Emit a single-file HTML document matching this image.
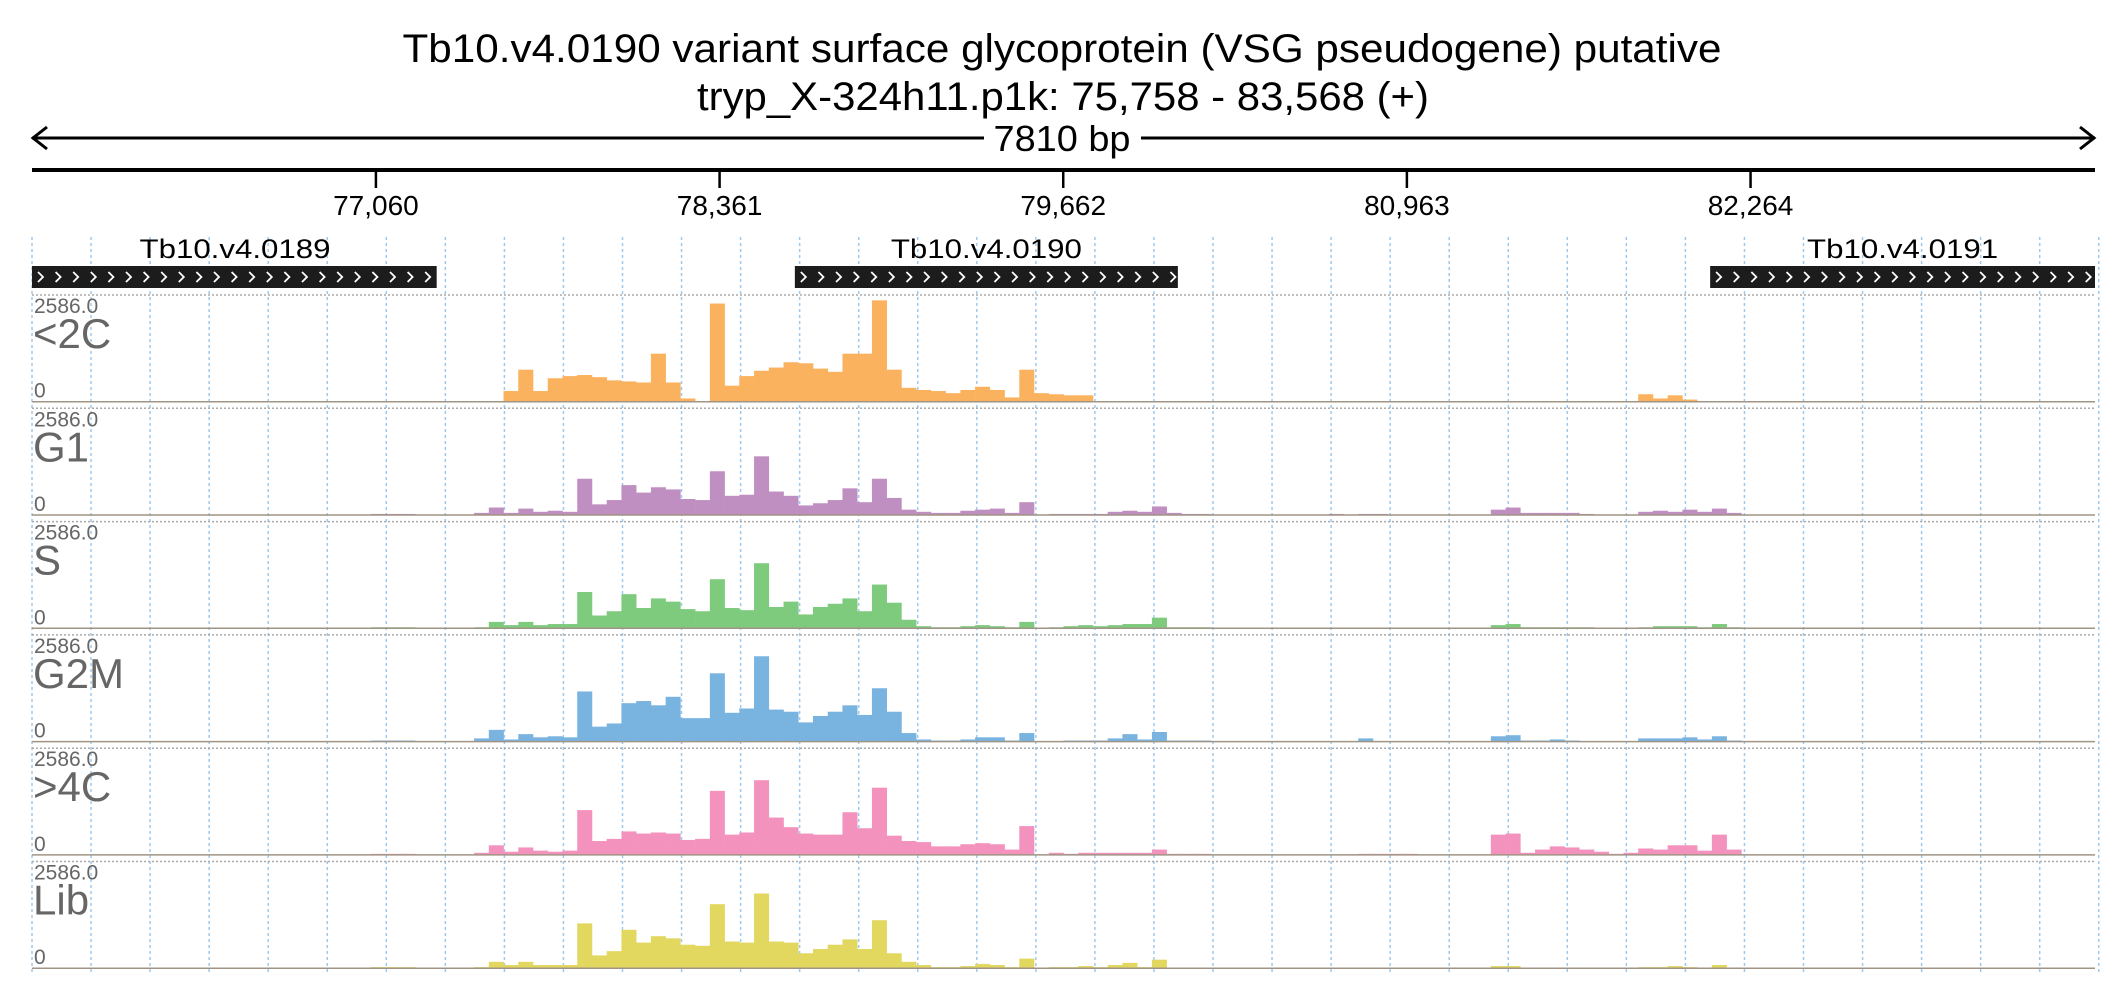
<!DOCTYPE html>
<html><head><meta charset="utf-8">
<style>
html,body{margin:0;padding:0;background:#fff;}
svg{display:block;font-family:"Liberation Sans",sans-serif;}
</style></head>
<body>
<svg id="chart" width="2126" height="1000" viewBox="0 0 2126 1000" xmlns="http://www.w3.org/2000/svg">
  <text x="1062" y="62" font-size="40" text-anchor="middle" textLength="1319" lengthAdjust="spacingAndGlyphs">Tb10.v4.0190  variant surface glycoprotein (VSG  pseudogene)  putative</text>
  <text x="1063" y="110" font-size="40" text-anchor="middle" textLength="732" lengthAdjust="spacingAndGlyphs">tryp_X-324h11.p1k: 75,758 - 83,568 (+)</text>
  <g stroke="#000" stroke-width="3" fill="none">
    <line x1="32" y1="138" x2="984" y2="138"/>
    <line x1="1141" y1="138" x2="2095" y2="138"/>
    <polyline points="47,127 33,138 47,149"/>
    <polyline points="2080,127 2094,138 2080,149"/>
  </g>
  <text x="1062" y="151" font-size="36" text-anchor="middle" textLength="137" lengthAdjust="spacingAndGlyphs">7810 bp</text>
  <line x1="32" y1="170" x2="2095" y2="170" stroke="#000" stroke-width="4"/>
  <g id="ticks"></g>
  <g id="grid"></g>
  <g id="genes"></g>
  <g id="tracks"></g>
</svg>
<script>
const NS = "http://www.w3.org/2000/svg";
const svg = document.getElementById('chart');
const regionStart = 75758, regionEnd = 83568;
const tickPositions = [77060, 78361, 79662, 80963, 82264];
const tickLabels = ["77,060", "78,361", "79,662", "80,963", "82,264"];
const geneNames = ["Tb10.v4.0189", "Tb10.v4.0190", "Tb10.v4.0191"];
const geneStarts = [75758, 78646, 82111];
const geneEnds = [77290, 80096, 83568];
const trackNames = ["<2C", "G1", "S", "G2M", ">4C", "Lib"];
const trackMaxLabel = "2586.0";
const trackColors = ["#fbb25e", "#c08fc2", "#7ecb7d", "#79b3e0", "#f492be", "#e2d860"];
const nBins = 140;
// coverage per bin, as % of 2586.0
const covLt2C = [0,0,0,0,0,0,0,0,0,0, 0,0,0,0,0,0,0,0,0,0, 0,0,0,0,0,0,0,0,0,0,
 0,0,10,30,10,22,24,25,23,20, 19,18,45,18,3,0,92,15,24,29, 32,37,36,31,28,45,45,95,30,13,
 11,10,8,11,14,11,4,30,8,7, 6,6,0,0,0,0,0,0,0,0, 0,0,0,0,0,0,0,0,0,0, 0,0,0,0,0,0,0,0,0,0,
 0,0,0,0,0,0,0,0,0,7, 3,6,2,0,0,0,0,0,0,0, 0,0,0,0,0,0,0,0,0,0, 0,0,0,0,0,0,0,0,0,0];
const covG1 = [0,0,0,0,0,0,0,0,0,0, 0,0,0,0,0,0,0,0,0,0, 0,0,0,1,1,1,0,0,0,0,
 2,7,2,6,3,4,3,34,10,14, 28,21,26,24,15,14,41,18,19,55, 22,18,9,11,14,25,12,34,16,5,
 3,2,2,4,5,6,2,12,0,1, 1,1,1,3,4,3,8,2,1,1, 0,0,0,0,0,0,0,0,1,0, 1,1,0,0,0,0,0,0,0,5,
 7,2,2,2,2,1,0,0,0,3, 4,3,5,3,6,2,0,0,0,0, 0,0,0,0,0,0,0,0,0,0, 0,0,0,0,0,0,0,0,0,0];
const covS = [0,0,0,0,0,0,0,0,0,0, 0,0,0,0,0,0,0,0,0,0, 0,0,0,1,1,1,0,0,0,0,
 1,6,3,6,3,4,4,34,12,16, 32,19,28,25,18,16,46,19,17,61, 20,25,13,20,23,28,16,41,24,8,
 2,1,1,2,3,2,1,6,0,1, 2,3,2,3,4,4,10,1,1,1, 0,0,0,0,0,0,0,0,0,0, 0,0,0,0,0,0,0,0,0,3,
 4,1,1,1,1,1,0,0,0,1, 2,2,2,1,4,1,0,0,0,0, 0,0,0,0,0,0,0,0,0,0, 0,0,0,0,0,0,0,0,0,0];
const covG2M = [0,0,0,0,0,0,0,0,0,0, 0,0,0,0,0,0,0,0,0,0, 0,0,0,1,1,1,0,0,0,0,
 3,11,2,7,4,5,4,47,14,17, 36,38,34,42,22,22,64,27,31,80, 30,28,18,24,28,34,25,50,28,8,
 2,1,1,2,4,4,1,8,0,0, 1,1,1,3,7,2,9,1,1,1, 0,0,0,0,0,0,0,0,0,0, 3,0,0,0,0,0,0,0,0,5,
 6,1,1,2,1,0,0,0,0,3, 3,3,4,2,5,1,0,0,0,0, 0,0,0,0,0,0,0,0,0,0, 0,0,0,0,0,0,0,0,0,0];
const covGt4C = [0,0,0,0,0,0,0,0,0,0, 0,0,0,0,0,0,0,0,0,0, 0,0,0,1,1,1,0,0,0,0,
 2,9,3,7,4,3,4,42,13,15, 22,20,21,20,14,15,60,19,21,70, 35,26,20,19,19,40,25,63,18,13,
 12,8,8,10,11,10,5,27,0,2, 1,2,2,2,2,2,5,1,1,1, 0,0,0,0,0,0,0,0,0,0, 1,1,1,1,0,0,0,0,0,19,
 20,2,5,8,7,5,3,1,2,6, 5,9,9,4,19,5,0,0,0,0, 0,0,0,0,0,0,0,0,0,0, 0,0,0,0,0,0,0,0,0,0];
const covLib = [0,0,0,0,0,0,0,0,0,0, 0,0,0,0,0,0,0,0,0,0, 0,0,0,1,1,1,0,0,0,0,
 1,6,3,6,3,3,3,42,12,16, 36,24,30,28,22,21,60,25,24,70, 25,24,14,18,22,27,18,45,14,6,
 3,1,1,2,4,3,1,9,0,1, 1,2,1,3,5,1,8,0,0,0, 0,0,0,0,0,0,0,0,0,0, 0,0,0,0,0,0,0,0,0,2,
 2,0,0,0,0,0,0,0,0,1, 1,2,1,0,3,0,0,0,0,0, 0,0,0,0,0,0,0,0,0,0, 0,0,0,0,0,0,0,0,0,0];
const trackSeries = [covLt2C, covG1, covS, covG2M, covGt4C, covLib];
const yMax = 100;

const X0 = 32, X1 = 2095;
function xScale(bp){ return X0 + (bp - regionStart) / (regionEnd - regionStart) * (X1 - X0); }
function binStart(i){ return regionStart + i * (regionEnd - regionStart) / nBins; }
function mk(tag, attrs, parent){
  const e = document.createElementNS(NS, tag);
  for (const k in attrs) e.setAttribute(k, attrs[k]);
  parent.appendChild(e); return e;
}

const gT = document.getElementById('ticks');
tickPositions.forEach((p, i) => {
  const x = xScale(p);
  const l = mk('line', {x1:x, y1:170, x2:x, y2:188, stroke:'#000', 'stroke-width':2.5}, gT);
  
  
  const t = mk('text', {x:x, y:215, 'font-size':28, 'text-anchor':'middle'}, gT);
  t.textContent = tickLabels[i];
  
  
});

const gG = document.getElementById('grid');
for (let k = 0; k <= 35; k++) {
  const x = X0 + k * 59.05;
  const l = mk('line', {x1:x, y1:237, x2:x, y2:972, stroke:'#9ec9ef', 'stroke-width':1.5, 'stroke-dasharray':'3,3'}, gG);
  
  
}

const gN = document.getElementById('genes');
geneNames.forEach((name, i) => {
  const xa = xScale(geneStarts[i]), xb = xScale(geneEnds[i]);
  const g = mk('g', {}, gN);
  
  
  mk('rect', {x:xa, y:266, width:xb - xa, height:22, fill:'#1c1c1c'}, g);
  for (let x = xa + 6; x < xb - 6; x += 17.6) {
    mk('polyline', {points:`${x},${272} ${x+5},${277} ${x},${282}`, fill:'none', stroke:'#fff', 'stroke-width':1.8}, g);
  }
  const cx = i === 0 ? 235 : (xa + xb) / 2;
  const t = mk('text', {x:cx, y:258, 'font-size':27, 'text-anchor':'middle', textLength:191, lengthAdjust:'spacingAndGlyphs'}, g);
  t.textContent = name;
});

const gR = document.getElementById('tracks');
const binW = (X1 - X0) / nBins;
trackSeries.forEach((vals, ti) => {
  const top = 295 + ti * 113.3, h = 106.7, base = top + h;
  const g = mk('g', {}, gR);
  
  
  mk('line', {x1:X0, y1:top, x2:X1, y2:top, stroke:'#aaa', 'stroke-width':1.5, 'stroke-dasharray':'2,2'}, g);
  vals.forEach((v, i) => {
    if (v <= 0) return;
    const x = xScale(binStart(i));
    const bh = v / yMax * h;
    const r = mk('rect', {x:x, y:base - bh, width:binW + 0.3, height:bh, fill:trackColors[ti]}, g);
    
    
  });
  mk('line', {x1:X0, y1:base, x2:X1, y2:base, stroke:'#a09484', 'stroke-width':1.5}, g);
  const tm = mk('text', {x:34, y:top + 18, 'font-size':21, fill:'#666'}, g);
  tm.textContent = trackMaxLabel;
  
  
  const tn = mk('text', {x:33, y:top + 53, 'font-size':42, fill:'#666'}, g);
  tn.textContent = trackNames[ti];
  
  
  const tz = mk('text', {x:34, y:base - 4, 'font-size':21, fill:'#666'}, g);
  tz.textContent = '0';
  
  
});
</script>
</body></html>
